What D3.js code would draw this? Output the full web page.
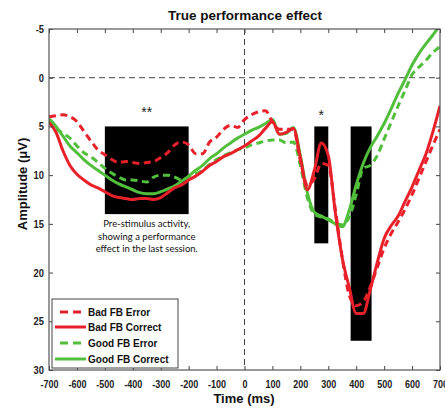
<!DOCTYPE html>
<html><head><meta charset="utf-8">
<script src="https://cdn.jsdelivr.net/npm/d3@7"></script>
<style>body{margin:0;background:#fff}svg{display:block}</style>
</head><body>
<svg id="c" width="445" height="410"></svg>
<script>
const times = d3.range(-700, 701, 25);
const badError = [4.0,3.9,3.8,4.0,4.5,5.5,6.5,7.4,7.9,8.4,8.7,8.6,8.7,8.8,8.7,8.6,8.2,7.7,6.9,6.6,6.9,7.8,7.8,6.6,6.1,5.3,4.9,5.1,4.3,3.8,3.5,3.4,4.5,5.3,5.3,5.3,8.5,11.0,10.4,8.8,9.0,13.5,18.5,22.3,23.4,23.0,21.5,19.5,17.5,16.0,14.8,13.5,12.0,10.3,8.6,6.9,5.3];
const badCorrect = [4.6,5.6,7.5,9.0,9.9,10.5,11.0,11.3,11.7,12.1,12.3,12.4,12.5,12.4,12.4,12.5,12.3,11.8,11.3,11.0,10.5,10.1,9.6,9.0,8.6,8.1,7.8,7.4,7.0,6.5,6.0,5.2,4.5,5.8,5.6,5.2,8.2,11.5,9.5,6.7,8.0,13.8,18.5,21.5,24.2,24.2,21.8,19.0,16.5,15.2,14.2,12.7,11.2,9.5,7.8,5.5,2.9];
const goodError = [4.3,5.2,5.7,6.2,7.0,7.7,8.1,8.7,9.3,9.8,10.2,10.5,10.5,10.6,10.7,10.2,10.0,10.0,10.2,10.5,10.2,9.9,9.5,8.9,8.4,8.0,7.7,7.4,7.2,6.9,6.7,6.5,6.4,6.4,6.7,6.6,9.0,12.3,14.0,14.3,14.5,14.9,15.1,14.3,12.0,9.3,9.0,8.0,6.3,4.6,2.9,1.3,-0.3,-1.1,-1.8,-2.6,-3.2];
const goodCorrect = [4.2,5.0,6.0,7.0,7.7,8.4,9.0,9.5,10.0,10.5,10.9,11.2,11.5,11.8,11.9,11.9,11.7,11.4,11.1,10.6,10.1,9.5,9.0,8.3,7.8,7.2,6.7,6.2,5.8,5.4,5.1,4.7,4.3,5.8,5.7,5.1,8.0,11.8,13.8,14.2,14.6,15.0,15.3,13.6,11.0,8.8,7.2,6.0,4.7,3.2,1.6,0.2,-1.3,-2.5,-3.5,-4.4,-5.4];
const seriesNames = ["Bad FB Error","Bad FB Correct","Good FB Error","Good FB Correct"];
const xTicks = d3.range(-700, 701, 100);
const yTicks = [-5,0,5,10,15,20,25,30];
// significance windows
const windowStart = [-500, 250, 380];
const windowEnd = [-200, 300, 455];
const windowTop = [5, 5, 5];
const windowBottom = [14, 17, 27];
const starLabels = ["**", "*"];
const starTimes = [-350, 275];
const starValues = [4.0, 4.3];
const noteLines = ["Pre-stimulus activity,","showing a performance","effect in the last session."];

const RED = "#e8202a", GREEN = "#52bf3c";
const seriesData = [badError, badCorrect, goodError, goodCorrect];
const seriesColor = [RED, RED, GREEN, GREEN];
const seriesDash = ["7,4.5", null, "7,4.5", null];

const svg = d3.select("#c");
const L = 49, R = 440, T = 29, B = 370;
const x = d3.scaleLinear().domain([-700, 700]).range([L, R]);
const y = d3.scaleLinear().domain([-5, 30]).range([T, B]);

svg.append("defs").append("clipPath").attr("id","clip")
  .append("rect").attr("x",L).attr("y",T).attr("width",R-L).attr("height",B-T);

// title
svg.append("text").attr("x", 245).attr("y", 20).attr("text-anchor","middle")
  .attr("font-family","Liberation Sans, Arial, sans-serif").attr("font-weight","bold")
  .attr("font-size", 13.5).attr("fill","#111").text("True performance effect");

// black windows
svg.append("g").selectAll("rect").data(windowStart).join("rect")
  .attr("x", (d,i) => x(d)).attr("width", (d,i) => x(windowEnd[i]) - x(d))
  .attr("y", (d,i) => y(windowTop[i])).attr("height", (d,i) => y(windowBottom[i]) - y(windowTop[i]))
  .attr("fill","#000");

// reference dashed lines
svg.append("line").attr("x1",L).attr("x2",R).attr("y1",y(0)).attr("y2",y(0))
  .attr("stroke","#444").attr("stroke-width",1).attr("stroke-dasharray","6,4");
svg.append("line").attr("x1",x(0)).attr("x2",x(0)).attr("y1",T).attr("y2",B)
  .attr("stroke","#444").attr("stroke-width",1).attr("stroke-dasharray","6,4");

// series lines
const line = d3.line().x((d,i) => x(times[i])).y(d => y(d)).curve(d3.curveMonotoneX);
const lg = svg.append("g").attr("clip-path","url(#clip)");
[2,3,0,1].forEach(k => {
  lg.append("path").datum(seriesData[k]).attr("d", line)
    .attr("fill","none").attr("stroke", seriesColor[k]).attr("stroke-width", 3)
    .attr("stroke-dasharray", seriesDash[k]).attr("stroke-linejoin","round");
});

// axes
const fmt = d => String(d);
function styleAxis(g){
  g.select(".domain").remove();
  g.selectAll(".tick line").attr("stroke","#444");
  g.selectAll(".tick text").attr("font-family","Liberation Sans, Arial, sans-serif")
    .attr("font-weight","bold").attr("font-size",11).attr("fill","#222");
}
svg.append("g").attr("transform",`translate(0,${B})`)
  .call(d3.axisBottom(x).tickValues(xTicks).tickSizeInner(-4).tickSizeOuter(0).tickPadding(10).tickFormat(fmt))
  .call(styleAxis)
  .call(g => g.selectAll(".tick text").attr("transform","scale(0.82,1)"));
svg.append("g").attr("transform",`translate(0,${T})`)
  .call(d3.axisTop(x).tickValues(xTicks).tickSizeInner(-4).tickSizeOuter(0).tickFormat(""))
  .call(styleAxis);
svg.append("g").attr("transform",`translate(${L},0)`)
  .call(d3.axisLeft(y).tickValues(yTicks).tickSizeInner(-4).tickSizeOuter(0).tickPadding(5).tickFormat(fmt))
  .call(styleAxis)
  .call(g => g.selectAll(".tick text").attr("transform","scale(0.85,1)").attr("x", -5/0.85));
svg.append("g").attr("transform",`translate(${R},0)`)
  .call(d3.axisRight(y).tickValues(yTicks).tickSizeInner(-4).tickSizeOuter(0).tickFormat(""))
  .call(styleAxis);

// box
svg.append("rect").attr("x",L).attr("y",T).attr("width",R-L).attr("height",B-T)
  .attr("fill","none").attr("stroke","#555").attr("stroke-width",1.2);

// stars
svg.append("g").selectAll("text").data(starLabels).join("text")
  .attr("x",(d,i)=>x(starTimes[i])).attr("y",(d,i)=>y(starValues[i]))
  .attr("text-anchor","middle").attr("font-family","Liberation Sans, Arial, sans-serif")
  .attr("font-size",14).attr("fill","#222").text(d=>d);

// note
svg.append("g").selectAll("text").data(noteLines).join("text")
  .attr("x", x(-350)).attr("y",(d,i)=>227 + i*12.6)
  .attr("text-anchor","middle").attr("font-family","Lato, Open Sans, sans-serif")
  .attr("font-size",9.5).attr("fill","#111").text(d=>d);

// axis labels
svg.append("text").attr("x", 244).attr("y", 403).attr("text-anchor","middle")
  .attr("font-family","Liberation Sans, Arial, sans-serif").attr("font-weight","bold")
  .attr("font-size",13).attr("fill","#111").text("Time (ms)");
svg.append("text").attr("transform","translate(27,184) rotate(-90)").attr("text-anchor","middle")
  .attr("font-family","Liberation Sans, Arial, sans-serif").attr("font-weight","bold")
  .attr("font-size",13).attr("fill","#111").text("Amplitude (μV)");

// legend
const leg = svg.append("g");
leg.append("rect").attr("x",52).attr("y",299).attr("width",126).attr("height",69)
  .attr("fill","#fff").attr("stroke","#444").attr("stroke-width",1);
const legRowY = [313, 328, 344, 360];
seriesNames.forEach((name,i) => {
  const dashed = seriesDash[i] !== null;
  leg.append("line").attr("x1", dashed ? 60 : 55).attr("x2", dashed ? 81 : 86)
    .attr("y1", legRowY[i]-1).attr("y2", legRowY[i]-1)
    .attr("stroke", seriesColor[i]).attr("stroke-width", 3)
    .attr("stroke-dasharray", dashed ? "8,5" : null);
  leg.append("text").attr("x", 88).attr("y", legRowY[i]+3)
    .attr("font-family","Liberation Sans, Arial, sans-serif").attr("font-weight","bold")
    .attr("font-size",10).attr("fill","#111").text(name);
});
</script>
</body></html>
